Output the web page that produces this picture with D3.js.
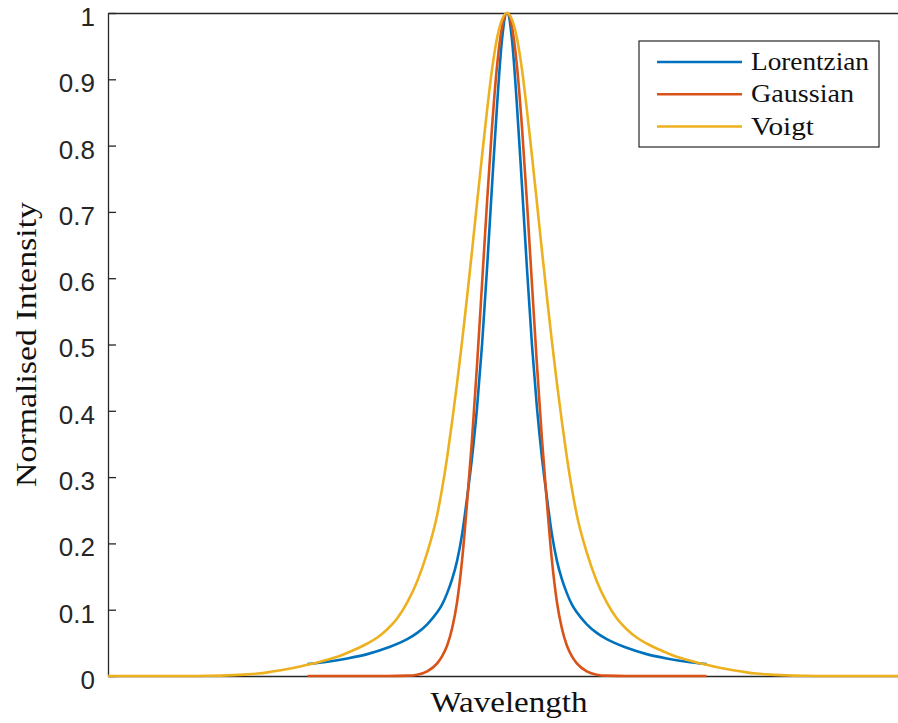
<!DOCTYPE html>
<html>
<head>
<meta charset="utf-8">
<script src="https://cdn.jsdelivr.net/npm/d3@7"></script>
<style>
  html, body { margin: 0; padding: 0; background: #ffffff; }
  svg { display: block; }
</style>
</head>
<body>
<svg id="chart" width="898" height="723"></svg>
<script>
// Sample positions (arbitrary wavelength units) for the truncated profiles
const xProfile = [
  -2.0, -1.8, -1.6, -1.4, -1.2, -1.0, -0.9, -0.8, -0.7, -0.65, -0.6, -0.55, -0.5, -0.45, -0.4, -0.35, -0.3, -0.25, -0.2, -0.15, -0.1, -0.05,
  0,
  0.05, 0.1, 0.15, 0.2, 0.25, 0.3, 0.35, 0.4, 0.45, 0.5, 0.55, 0.6, 0.65, 0.7, 0.8, 0.9, 1.0, 1.2, 1.4, 1.6, 1.8, 2.0
];

const lorentzian = [
  0.018, 0.0215, 0.0265, 0.033, 0.0425, 0.0555, 0.065, 0.078, 0.096, 0.108, 0.125, 0.146, 0.174, 0.214, 0.269, 0.33, 0.405, 0.50, 0.615, 0.74, 0.86, 0.96,
  1,
  0.96, 0.86, 0.74, 0.615, 0.50, 0.405, 0.33, 0.269, 0.214, 0.174, 0.146, 0.125, 0.108, 0.096, 0.078, 0.065, 0.0555, 0.0425, 0.033, 0.0265, 0.0215, 0.018
];

const gaussian = [
  0, 0, 0, 0, 0, 0.0005, 0.002, 0.007, 0.019, 0.03, 0.046, 0.072, 0.112, 0.175, 0.262, 0.358, 0.47, 0.592, 0.715, 0.828, 0.92, 0.979,
  1,
  0.979, 0.92, 0.828, 0.715, 0.592, 0.47, 0.358, 0.262, 0.175, 0.112, 0.072, 0.046, 0.03, 0.019, 0.007, 0.002, 0.0005, 0, 0, 0, 0, 0
];

// The Voigt profile runs across the whole window
const xVoigt = [
  -4.0, -3.5, -3.2, -3.0, -2.8, -2.6, -2.5, -2.4, -2.3, -2.2, -2.1, -2.0, -1.9, -1.8, -1.7, -1.6, -1.5, -1.4, -1.3, -1.2, -1.1, -1.0,
  -0.9, -0.8, -0.7, -0.65, -0.6, -0.55, -0.5, -0.45, -0.4, -0.35, -0.3, -0.25, -0.2, -0.15, -0.1, -0.05,
  0,
  0.05, 0.1, 0.15, 0.2, 0.25, 0.3, 0.35, 0.4, 0.45, 0.5, 0.55, 0.6, 0.65, 0.7, 0.8, 0.9,
  1.0, 1.1, 1.2, 1.3, 1.4, 1.5, 1.6, 1.7, 1.8, 1.9, 2.0, 2.1, 2.2, 2.3, 2.4, 2.5, 2.6, 2.8, 3.0, 3.2, 3.5, 4.0
];

const voigt = [
  0, 0, 0, 0.0003, 0.0009, 0.0024, 0.0037, 0.0055, 0.0078, 0.0105, 0.0135, 0.017, 0.0205, 0.0245, 0.029, 0.035, 0.0415, 0.049, 0.058, 0.0705, 0.087, 0.111,
  0.143, 0.186, 0.243, 0.283, 0.33, 0.384, 0.442, 0.505, 0.572, 0.642, 0.714, 0.785, 0.853, 0.915, 0.962, 0.99,
  1,
  0.99, 0.962, 0.915, 0.853, 0.785, 0.714, 0.642, 0.572, 0.505, 0.442, 0.384, 0.33, 0.283, 0.243, 0.186, 0.143,
  0.111, 0.087, 0.0705, 0.058, 0.049, 0.0415, 0.035, 0.029, 0.0245, 0.0205, 0.017, 0.0135, 0.0105, 0.0078, 0.0055, 0.0037, 0.0024, 0.0009, 0.0003, 0, 0, 0
];

const seriesNames = ["Lorentzian", "Gaussian", "Voigt"];
const seriesColors = ["#0072BD", "#D95319", "#EDB120"];

const yTicks = [0, 0.1, 0.2, 0.3, 0.4, 0.5, 0.6, 0.7, 0.8, 0.9, 1];
const yTickLabels = ["0", "0.1", "0.2", "0.3", "0.4", "0.5", "0.6", "0.7", "0.8", "0.9", "1"];

const xLabel = "Wavelength";
const yLabel = "Normalised Intensity";

// ---- layout ----
const plot = { left: 108, right: 906, top: 13, bottom: 676 };
const axisColor = "#262626";
const serif = "'Liberation Serif', 'Times New Roman', serif";
const sans = "'Liberation Sans', Arial, Helvetica, sans-serif";

const svg = d3.select("#chart");

const x = d3.scaleLinear().domain([-4, 4]).range([plot.left, plot.right]);
const y = d3.scaleLinear().domain([0, 1]).range([plot.bottom, plot.top]);

// ---- axes box ----
const axes = svg.append("g");

const leftAxis = d3.axisLeft(y)
  .tickValues(yTicks)
  .tickFormat((d, i) => yTickLabels[i])
  .tickSize(-8)
  .tickSizeOuter(0)
  .tickPadding(13);

const gLeft = axes.append("g")
  .attr("transform", `translate(${plot.left},0)`)
  .call(leftAxis);
gLeft.selectAll("text")
  .attr("dy", "0.48em")
  .style("font-family", sans)
  .style("font-size", "26px")
  .attr("fill", axisColor);

const rightAxis = d3.axisRight(y)
  .tickValues(yTicks)
  .tickFormat("")
  .tickSize(-8)
  .tickSizeOuter(0);
axes.append("g")
  .attr("transform", `translate(${plot.right},0)`)
  .call(rightAxis);

const bottomAxis = d3.axisBottom(x).tickValues([]).tickSizeOuter(0);
axes.append("g")
  .attr("transform", `translate(0,${plot.bottom})`)
  .call(bottomAxis);

const topAxis = d3.axisTop(x).tickValues([]).tickSizeOuter(0);
axes.append("g")
  .attr("transform", `translate(0,${plot.top})`)
  .call(topAxis);

axes.selectAll(".domain, .tick line")
  .attr("stroke", axisColor)
  .attr("stroke-width", 1.3);

// ---- axis labels ----
svg.append("text")
  .attr("x", (plot.left + 906) / 2 + 2)
  .attr("y", 712)
  .attr("text-anchor", "middle")
  .attr("textLength", 157)
  .attr("lengthAdjust", "spacingAndGlyphs")
  .style("font-family", serif)
  .style("font-size", "30px")
  .attr("fill", "#111")
  .text(xLabel);

svg.append("text")
  .attr("transform", `translate(36,${(plot.top + plot.bottom) / 2}) rotate(-90)`)
  .attr("text-anchor", "middle")
  .attr("textLength", 285)
  .attr("lengthAdjust", "spacingAndGlyphs")
  .style("font-family", serif)
  .style("font-size", "30px")
  .attr("fill", "#111")
  .text(yLabel);

// ---- curves ----
const line = d3.line()
  .x(d => x(d[0]))
  .y(d => y(d[1]))
  .curve(d3.curveMonotoneX);

const series = [
  { name: seriesNames[0], color: seriesColors[0], points: d3.zip(xProfile, lorentzian) },
  { name: seriesNames[1], color: seriesColors[1], points: d3.zip(xProfile, gaussian) },
  { name: seriesNames[2], color: seriesColors[2], points: d3.zip(xVoigt, voigt) }
];

svg.append("g")
  .selectAll("path")
  .data(series)
  .join("path")
  .attr("d", d => line(d.points))
  .attr("fill", "none")
  .attr("stroke", d => d.color)
  .attr("stroke-width", 2.6)
  .attr("stroke-linejoin", "round");

// ---- legend ----
const legend = svg.append("g").attr("transform", "translate(639,41)");
legend.append("rect")
  .attr("width", 240)
  .attr("height", 106)
  .attr("fill", "#ffffff")
  .attr("stroke", axisColor)
  .attr("stroke-width", 1.2);

const rowY = d3.scaleLinear().domain([0, 2]).range([21, 85.5]);
const legendLengths = [118, 103, 63];

const rows = legend.selectAll("g.row")
  .data(series)
  .join("g")
  .attr("class", "row")
  .attr("transform", (d, i) => `translate(0,${rowY(i)})`);

rows.append("line")
  .attr("x1", 18)
  .attr("x2", 103)
  .attr("stroke", d => d.color)
  .attr("stroke-width", 2.6);

rows.append("text")
  .attr("x", 112)
  .attr("y", 8)
  .attr("textLength", (d, i) => legendLengths[i])
  .attr("lengthAdjust", "spacingAndGlyphs")
  .style("font-family", serif)
  .style("font-size", "25px")
  .attr("fill", "#111")
  .text(d => d.name);
</script>
</body>
</html>
